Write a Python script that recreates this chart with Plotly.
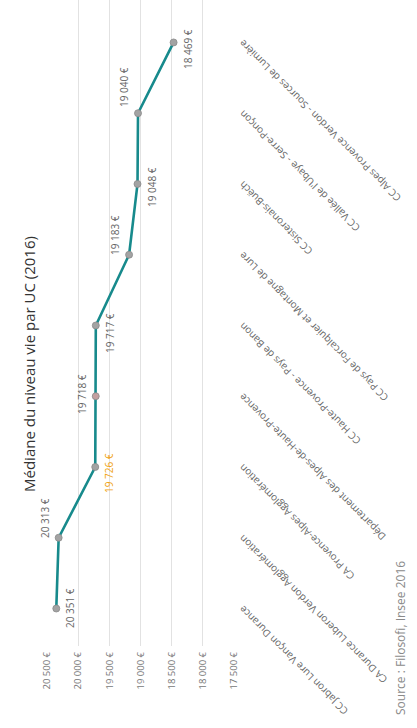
import plotly.graph_objects as go

# Territoires (ordre croissant de rang) et médiane du niveau de vie par UC, 2016
territoires = [
    "CC Jabron Lure Vançon Durance",
    "CA Durance Luberon Verdon Agglomération",
    "CA Provence-Alpes Agglomération",
    "Département des Alpes-de-Haute-Provence",
    "CC Haute-Provence - Pays de Banon",
    "CC Pays de Forcalquier et Montagne de Lure",
    "CC Sisteronais-Buëch",
    "CC Vallée de l'Ubaye - Serre-Ponçon",
    "CC Alpes Provence Verdon - Sources de Lumière",
]
mediane = [20351, 20313, 19726, 19718, 19717, 19183, 19048, 19040, 18469]
territoire_mis_en_avant = "CA Provence-Alpes Agglomération"

axe_valeurs = [17500, 18000, 18500, 19000, 19500, 20000, 20500]

titre = "Médiane du niveau vie par UC (2016)"
source = "Source : Filosofi, Insee 2016"


def euros(v):
    return f"{v:,}".replace(",", " ") + " €"


# Canvas (landscape) that is turned a quarter-turn once drawn
W, H = 728, 417
L, R, T, B = 82, 0, 47, 183
PW, PH = W - L - R, H - T - B

FONT = "Open Sans, Arial, sans-serif"
TEAL = "#178a8c"
ORANGE = "#f0a313"

marker_colors = ["#a3a3a3"] * len(territoires)
marker_colors[territoires.index("Département des Alpes-de-Haute-Provence")] = "#c4a0a0"

fig = go.Figure()
fig.add_trace(go.Scatter(
    x=territoires,
    y=mediane,
    mode="lines+markers",
    line=dict(color=TEAL, width=2.6),
    marker=dict(size=7, color=marker_colors, line=dict(color="#8a8a8a", width=0.8)),
    hoverinfo="x+y",
    showlegend=False,
))

# value labels alternately below / above the points
label_side = [-1, 1, -1, 1, -1, 1, -1, 1, -1]
label_dx = [0, 20, -6, 2, -8, 20, -3, 26, -7]
for i, (t, v) in enumerate(zip(territoires, mediane)):
    fig.add_annotation(
        x=t, y=v, xref="x", yref="y",
        text=euros(v),
        showarrow=False,
        xshift=label_dx[i],
        yshift=14 * label_side[i],
        font=dict(family=FONT, size=10,
                  color=ORANGE if t == territoire_mis_en_avant else "#666666"),
    )

fig.add_annotation(
    text=source, showarrow=False,
    xref="paper", yref="paper",
    x=(11 - L) / PW, y=(T + PH - 400) / PH,
    xanchor="left", yanchor="middle",
    font=dict(family=FONT, size=12, color="#8a8a8a"),
)

fig.update_layout(
    width=W, height=H,
    margin=dict(l=L, r=R, t=T, b=B, autoexpand=False),
    paper_bgcolor="white",
    plot_bgcolor="white",
    font=dict(family=FONT, color="#666666"),
    title=dict(text=titre, x=0.5, xref="container", xanchor="center",
               y=1 - 30 / H, yanchor="middle",
               font=dict(family=FONT, size=15, color="#333333")),
)
fig.update_xaxes(
    type="category",
    range=[-0.53, 8.6],
    showgrid=False, zeroline=False, showline=False, ticks="",
    tickangle=-45,
    tickfont=dict(family=FONT, size=10, color="#666666"),
    automargin=False,
)
fig.update_yaxes(
    range=[axe_valeurs[0], axe_valeurs[-1]],
    tickvals=axe_valeurs,
    ticktext=[euros(v) for v in axe_valeurs],
    showgrid=True, gridcolor="#e2e2e2", gridwidth=1,
    zeroline=False, showline=False, ticks="",
    ticklabelstandoff=5,
    tickfont=dict(family=FONT, size=9.5, color="#777777"),
    automargin=False,
)

# the page shows the chart standing on its side (quarter-turn counter-clockwise)
turn = """
var gd = document.getElementById('{plot_id}');
gd.style.transformOrigin = '0 0';
gd.style.transform = 'translateY(728px) rotate(-90deg)';
document.documentElement.style.overflow = 'hidden';
document.body.style.overflow = 'hidden';
document.body.style.margin = '0';
"""

fig.write_html("out.html", post_script=turn)
